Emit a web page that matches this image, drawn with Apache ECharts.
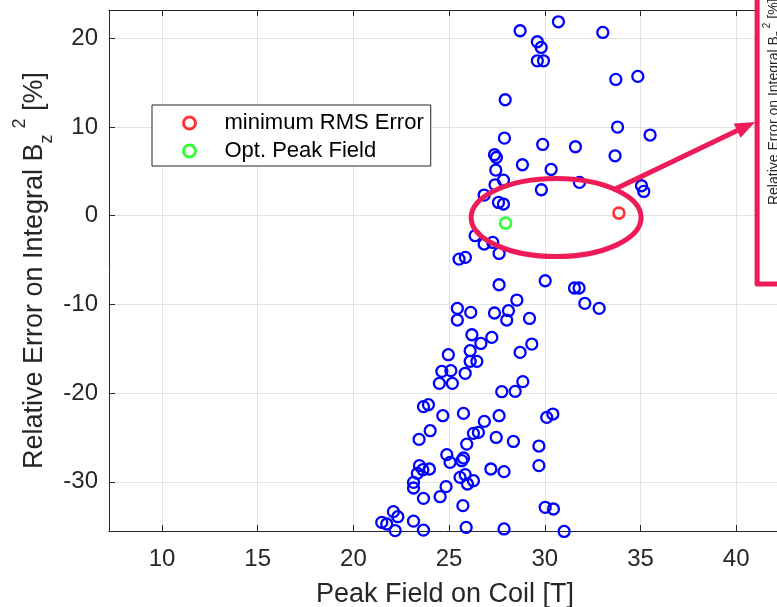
<!DOCTYPE html>
<html><head><meta charset="utf-8">
<script src="https://cdn.jsdelivr.net/npm/echarts@6/dist/echarts.min.js"></script>
<style>html,body{margin:0;padding:0;background:#fff;}#c{width:777px;height:607px;}</style>
</head><body><div id="c"></div>
<script>
// ---- data ----
const peakField = [28.71,30.71,33.03,29.61,29.81,29.61,29.93,33.71,34.86,27.93,33.80,35.50,27.89,29.89,31.60,33.67,27.37,27.47,28.83,30.33,27.44,27.84,31.81,27.40,29.82,35.05,35.17,26.83,27.58,27.84,
  26.36,26.83,27.28,27.61,25.52,25.85,27.61,30.02,31.55,31.79,32.09,32.84,28.54,25.43,26.13,25.43,27.37,28.10,28.01,29.20,26.19,27.23,26.66,26.10,29.32,28.71,24.96,26.10,26.45,24.62,25.09,25.84,24.49,25.17,28.85,27.75,28.45,
  23.66,23.92,24.67,25.75,27.61,30.10,30.42,26.84,24.01,23.43,26.27,26.53,27.46,28.36,25.92,29.69,24.88,25.75,25.05,25.66,29.69,23.45,23.97,23.63,23.34,27.18,27.87,25.57,25.84,26.27,25.96,23.14,23.14,24.84,23.66,24.53,25.72,30.02,30.45,22.09,22.32,21.48,21.74,22.18,23.14,23.66,25.89,27.87,31.01];
const relError = [20.86,21.87,20.67,19.62,18.98,17.47,17.47,15.37,15.71,13.08,10.00,9.10,8.76,8.04,7.78,6.76,6.88,6.57,5.75,5.22,5.15,4.02,3.76,3.49,2.93,3.38,2.74,2.33,1.50,1.32,
  -2.25,-3.19,-3.01,-4.25,-4.89,-4.70,-7.78,-7.33,-8.15,-8.15,-9.88,-10.45,-9.51,-10.45,-10.90,-11.76,-10.97,-10.71,-11.76,-11.58,-13.42,-13.72,-14.40,-15.22,-14.47,-15.41,-15.67,-16.42,-16.42,-17.55,-17.47,-17.77,-18.90,-18.90,-18.71,-19.84,-19.80,
  -21.53,-21.31,-22.55,-22.29,-22.55,-22.74,-22.36,-23.19,-24.24,-25.22,-24.54,-24.43,-25.00,-25.45,-25.75,-25.97,-26.94,-27.32,-27.81,-27.62,-28.18,-28.18,-28.56,-28.64,-29.05,-28.56,-28.86,-29.50,-29.20,-29.88,-30.25,-30.07,-30.70,-30.55,-31.87,-31.68,-32.69,-32.88,-33.07,-33.37,-33.94,-34.58,-34.76,-35.50,-34.44,-35.45,-35.14,-35.32,-35.60];
const minRmsPoint = [33.87, 0.30];
const optPeakPoint = [27.95, -0.83];
const legendNames = ['minimum RMS Error', 'Opt. Peak Field'];
const xTickValues = [10, 15, 20, 25, 30, 35, 40];
const yTickValues = [-30, -20, -10, 0, 10, 20];
const xRange = [7.23, 42.34];
const yRange = [-35.55, 23.2];
const xTitle = 'Peak Field on Coil [T]';
const yTitle = '{n|Relative Error on Integral B}{sub|z}{sup|2}{n| [%]}';
// annotation anchors (data units)
const ellipseCenter = [30.59, -0.2], ellipseSemi = [4.44, 4.4];
const arrowFrom = [33.57, 2.9], arrowTo = [40.99, 10.57];
const insetCorner = [41.09, -7.7];

const FONT = "'Liberation Sans', Arial, Helvetica, sans-serif";
const INK = '#262626';
const PINK = '#ee1b58';

const chart = echarts.init(document.getElementById('c'), null, {renderer: 'canvas'});

function axisCommon() {
  return {
    type: 'value',
    axisLine: {show: true, onZero: false, lineStyle: {color: INK, width: 1}},
  };
}

chart.setOption({
  animation: false,
  backgroundColor: '#fff',
  grid: {left: 109, top: 10, width: 672, height: 521, containLabel: false, outerBoundsMode: 'none'},
  legend: {
    data: legendNames, orient: 'vertical', left: 152, top: 105,
    padding: [6, 7, 3, 30], itemGap: 4, itemWidth: 12, itemHeight: 12,
    backgroundColor: '#fff', borderColor: INK, borderWidth: 1, borderRadius: 0,
    selectedMode: false,
    itemStyle: {borderWidth: 3},
    formatter: '{t|{name}}',
    textStyle: {fontSize: 22, color: '#000', fontFamily: FONT, lineHeight: 24,
      rich: {t: {fontSize: 22, color: '#000', fontFamily: FONT, lineHeight: 24, padding: [0, 0, 0, 24]}}}
  },
  xAxis: [
    Object.assign(axisCommon(), {
      position: 'bottom', min: xRange[0], max: xRange[1], splitNumber: 7, minInterval: 5, maxInterval: 5,
      axisTick: {show: true, inside: true, length: 6, lineStyle: {color: INK}, customValues: xTickValues},
      axisLabel: {margin: 16, fontSize: 24, color: INK, fontFamily: FONT, customValues: xTickValues},
      splitLine: {show: true, lineStyle: {color: '#e3e3e3', width: 1}},
      name: xTitle, nameLocation: 'middle', nameGap: 50, nameMoveOverlap: false,
      nameTextStyle: {fontSize: 27, color: INK, fontFamily: FONT}
    }),
    Object.assign(axisCommon(), {
      position: 'top', min: xRange[0], max: xRange[1], splitNumber: 7, minInterval: 5, maxInterval: 5,
      axisTick: {show: true, inside: true, length: 6, lineStyle: {color: INK}, customValues: xTickValues},
      axisLabel: {show: false}, splitLine: {show: false}
    })
  ],
  yAxis: [
    Object.assign(axisCommon(), {
      position: 'left', min: yRange[0], max: yRange[1], splitNumber: 5, minInterval: 10, maxInterval: 10,
      axisTick: {show: true, inside: true, length: 6, lineStyle: {color: INK}, customValues: yTickValues},
      axisLabel: {margin: 11, fontSize: 24, color: INK, fontFamily: FONT, customValues: yTickValues},
      splitLine: {show: true, lineStyle: {color: '#e3e3e3', width: 1}},
      name: yTitle, nameLocation: 'middle', nameGap: 50, nameRotate: 90, nameMoveOverlap: false,
      nameTextStyle: {
        color: INK, fontFamily: FONT,
        rich: {
          n: {fontSize: 27, fontFamily: FONT, color: INK, lineHeight: 27, verticalAlign: 'middle'},
          sub: {fontSize: 18, fontFamily: FONT, color: INK, lineHeight: 48, verticalAlign: 'bottom', padding: [27, 0, 3, 0]},
          sup: {fontSize: 18, fontFamily: FONT, color: INK, lineHeight: 48, verticalAlign: 'top', padding: [0, 0, 30, 6]}
        }
      }
    })
  ],
  series: [
    {type: 'scatter', name: 'samples', clip: false, symbol: 'circle', symbolSize: 11,
     data: peakField.map((x, i) => [x, relError[i]]),
     itemStyle: {color: 'rgba(0,0,0,0)', borderColor: '#0000ff', borderWidth: 2.3, opacity: 1}, z: 3},
    {type: 'scatter', name: legendNames[0], clip: false, symbol: 'circle', symbolSize: 11,
     data: [minRmsPoint],
     itemStyle: {color: 'rgba(0,0,0,0)', borderColor: '#ff0000', borderWidth: 2.6}, z: 4},
    {type: 'scatter', name: legendNames[1], clip: false, symbol: 'circle', symbolSize: 11,
     data: [optPeakPoint],
     itemStyle: {color: 'rgba(0,0,0,0)', borderColor: '#00ff00', borderWidth: 2.6}, z: 4}
  ]
});

// ---- annotations positioned through the axes ----
const P = (p) => chart.convertToPixel({xAxisIndex: 0, yAxisIndex: 0}, p);
const c = P(ellipseCenter);
const e = P([ellipseCenter[0] + ellipseSemi[0], ellipseCenter[1] + ellipseSemi[1]]);
const rx = e[0] - c[0], ry = c[1] - e[1];
const S = P(arrowFrom), T = P(arrowTo);
const L = Math.hypot(T[0] - S[0], T[1] - S[1]);
const d = [(T[0] - S[0]) / L, (T[1] - S[1]) / L];
const n = [-d[1], d[0]];
const headLen = 20, headHalf = 8;
const B = [T[0] - d[0] * headLen, T[1] - d[1] * headLen];
const IC = P(insetCorner);

chart.setOption({
  graphic: [
    {type: 'ellipse', shape: {cx: c[0], cy: c[1], rx: rx, ry: ry},
     style: {fill: 'none', stroke: PINK, lineWidth: 5}, z: 100, silent: true},
    {type: 'line', shape: {x1: S[0], y1: S[1], x2: B[0] + d[0] * 2, y2: B[1] + d[1] * 2},
     style: {stroke: PINK, lineWidth: 5}, z: 100, silent: true},
    {type: 'polygon', shape: {points: [T, [B[0] + n[0] * headHalf, B[1] + n[1] * headHalf], [B[0] - n[0] * headHalf, B[1] - n[1] * headHalf]]},
     style: {fill: PINK}, z: 100, silent: true},
    {type: 'rect', shape: {x: IC[0], y: -20, width: 200, height: IC[1] + 20},
     style: {fill: '#fff', stroke: PINK, lineWidth: 5, lineJoin: 'round'}, z: 99, silent: true},
    {type: 'text', x: IC[0] + 17, y: IC[1] - 79, rotation: Math.PI / 2, z: 101, silent: true,
     style: {text: yTitle, align: 'left', verticalAlign: 'middle',
       rich: {
         n: {fontSize: 14, fontFamily: FONT, fill: INK, lineHeight: 14},
         sub: {fontSize: 10, fontFamily: FONT, fill: INK, lineHeight: 24, verticalAlign: 'bottom', padding: [12, 0, 2, 0]},
         sup: {fontSize: 10, fontFamily: FONT, fill: INK, lineHeight: 24, verticalAlign: 'top', padding: [0, 0, 14, 3]}
       }}}
  ]
});
</script></body></html>
